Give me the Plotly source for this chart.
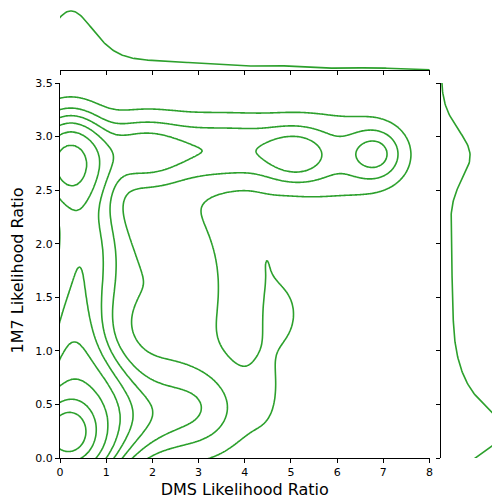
import numpy as np
import plotly.graph_objects as go

# ---- data: density components ----
# (centre x, centre y, spread x, spread y, weight) of each cluster of points
comp_x  = [0.15, 0.40, 1.60, 3.00, 0.25, 0.50, 0.40, 0.20, 1.70, 3.60, 5.10, 6.85, 6.00, 4.50, 4.85, 4.50, 2.20]
comp_y  = [0.22, 0.40, 0.38, 0.45, 1.10, 1.65, 2.10, 2.77, 2.86, 2.88, 2.82, 2.84, 2.80, 0.75, 1.35, 1.90, 1.60]
comp_sx = [0.42, 0.65, 0.70, 0.75, 0.45, 0.55, 0.55, 0.50, 0.65, 1.30, 0.45, 0.40, 1.00, 0.35, 0.30, 0.30, 1.00]
comp_sy = [0.20, 0.38, 0.28, 0.30, 0.40, 0.40, 0.40, 0.27, 0.22, 0.22, 0.17, 0.17, 0.30, 0.45, 0.22, 0.30, 0.70]
comp_w  = [0.23, 0.23, 0.035, 0.035, 0.062, 0.03, 0.055, 0.086, 0.025, 0.05, 0.009, 0.011, 0.03, 0.008, 0.004, 0.004, 0.085]

x_ticks = [0, 1, 2, 3, 4, 5, 6, 7, 8]
y_ticks = [0.0, 0.5, 1.0, 1.5, 2.0, 2.5, 3.0, 3.5]
x_label = "DMS Likelihood Ratio"
y_label = "1M7 Likelihood Ratio"
n_levels = 10
thresh = 0.05

GREEN = "#2ca02c"

# ---- density on a grid ----
gx = np.linspace(-1.5, 9.5, 441)
gy = np.linspace(-1.2, 4.7, 361)
X, Y = np.meshgrid(gx, gy)
Z = np.zeros_like(X)
fx = np.zeros_like(gx)
fy = np.zeros_like(gy)
wsum = float(np.sum(comp_w))
for mx, my, sx, sy, w in zip(comp_x, comp_y, comp_sx, comp_sy, comp_w):
    Z += w * np.exp(-0.5 * ((X - mx) / sx) ** 2 - 0.5 * ((Y - my) / sy) ** 2) / (2 * np.pi * sx * sy)
    fx += w * np.exp(-0.5 * ((gx - mx) / sx) ** 2) / (np.sqrt(2 * np.pi) * sx)
    fy += w * np.exp(-0.5 * ((gy - my) / sy) ** 2) / (np.sqrt(2 * np.pi) * sy)
Z /= wsum
fx /= wsum
fy /= wsum

# iso-proportion contour levels (as seaborn's kdeplot does)
isoprop = np.linspace(thresh, 1, n_levels)
vals = np.sort(Z.ravel())[::-1]
cum = np.cumsum(vals) / vals.sum()
idx = np.searchsorted(cum, 1 - isoprop)
levels = np.take(vals, idx, mode="clip")[:-1]
xp = np.concatenate([[Z.min() - 1e-12], levels, [Z.max() + 1e-12]])
fp = np.arange(-1, len(levels) + 1, dtype=float)
Zt = np.interp(Z, xp, fp)

fig = go.Figure()
fig.add_trace(go.Contour(
    x=gx, y=gy, z=Zt,
    contours=dict(coloring="lines", start=0, end=len(levels) - 1, size=1),
    line=dict(width=1.6, smoothing=0.8),
    colorscale=[[0, GREEN], [1, GREEN]],
    showscale=False, hoverinfo="skip", xaxis="x", yaxis="y",
))
fig.add_trace(go.Scatter(x=gx, y=fx, mode="lines", line=dict(color=GREEN, width=1.6),
                         xaxis="x2", yaxis="y2", hoverinfo="skip"))
fig.add_trace(go.Scatter(x=fy, y=gy, mode="lines", line=dict(color=GREEN, width=1.6),
                         xaxis="x3", yaxis="y3", hoverinfo="skip"))

# page body has an 8px margin: lay out in window pixels and convert
OFF = 8
W, H = 500 - OFF, 499 - OFF


def px_x(a, b):
    return [(a - OFF) / W, (b - OFF) / W]


def px_y(top, bottom):
    return [(H - (bottom - OFF)) / H, min(1.0, (H - (top - OFF)) / H)]


xdom = px_x(60, 429.5)
ydom = px_y(83, 458)
tickfont = dict(family="DejaVu Sans", size=11, color="black")
axcommon = dict(showgrid=False, zeroline=False, showline=True, linecolor="black", linewidth=1,
                ticks="outside", ticklen=4, tickwidth=1, tickcolor="black", automargin=False)

R = float(fy.max()) * 1.05 * (59.0 / 65.0)

fig.update_layout(
    width=W, height=H, margin=dict(l=0, r=0, t=0, b=0),
    paper_bgcolor="white", plot_bgcolor="white", showlegend=False,
    font=dict(family="DejaVu Sans", color="black"),
    xaxis=dict(domain=xdom, range=[0, 8], anchor="y", tickvals=x_ticks,
               ticktext=[str(v) for v in x_ticks], tickfont=tickfont,
               title=dict(text=x_label, font=dict(size=16), standoff=6), **axcommon),
    yaxis=dict(domain=ydom, range=[0, 3.5], anchor="x", tickvals=y_ticks,
               ticktext=[f"{v:.1f}" for v in y_ticks], tickfont=tickfont,
               title=dict(text=y_label, font=dict(size=16), standoff=8), **axcommon),
    xaxis2=dict(domain=xdom, range=[0, 8], anchor="y2", tickvals=x_ticks,
                showticklabels=False, **axcommon),
    yaxis2=dict(domain=px_y(5, 70), range=[0, float(fx.max()) * 1.05],
                anchor="x2", visible=False),
    xaxis3=dict(domain=[(441 - OFF) / W, 1.0], range=[0, R], anchor="y3", visible=False),
    yaxis3=dict(domain=ydom, range=[0, 3.5], anchor="x3", tickvals=y_ticks,
                showticklabels=False, **axcommon),
)

fig.write_html("out.html")
